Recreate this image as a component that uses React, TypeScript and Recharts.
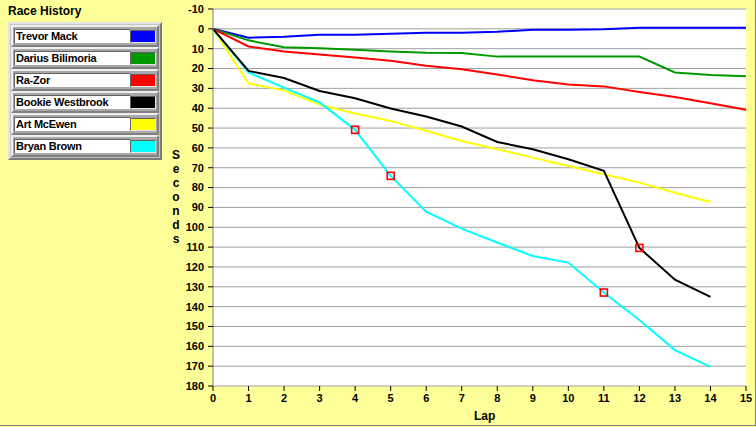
import React from 'react'
import { LineChart, Line, XAxis, YAxis, CartesianGrid } from 'recharts'

// lap numbers along the x axis
const laps = [0, 1, 2, 3, 4, 5, 6, 7, 8, 9, 10, 11, 12, 13, 14, 15]

// cumulative seconds behind (null = no lap run)
const trevorMack = [0, 4.5, 4.0, 3.0, 3.0, 2.5, 2.0, 2.0, 1.5, 0.5, 0.5, 0.2, -0.5, -0.5, -0.5, -0.5]
const dariusBilimoria = [0, 5.8, 9.3, 9.8, 10.5, 11.4, 12.0, 12.2, 14.0, 14.0, 14.0, 14.0, 14.0, 22.0, 23.3, 23.9]
const raZor = [0, 8.9, 11.4, 12.9, 14.4, 16.1, 18.6, 20.4, 23.0, 25.9, 28.0, 29.0, 31.8, 34.3, 37.5, 40.8]
const bookieWestbrook = [0, 21.2, 24.8, 31.3, 35.0, 40.1, 44.2, 49.2, 57.0, 60.7, 65.7, 71.6, 110.4, 126.4, 135.1, null]
const artMcEwen = [0, 27.5, 31.0, 38.2, 42.7, 46.4, 51.4, 56.5, 60.7, 64.9, 69.1, 73.3, 77.5, 82.6, 87.3, null]
const bryanBrown = [0, 22.0, 29.6, 37.1, 50.9, 74.1, 92.1, 100.7, 107.7, 114.5, 117.8, 132.9, 146.7, 161.9, 170.4, null]

// laps that carry a red square marker
const bookieMarks = [12]
const bryanMarks = [4, 5, 11]

const yTicks = [-10, 0, 10, 20, 30, 40, 50, 60, 70, 80, 90, 100, 110, 120, 130, 140, 150, 160, 170, 180]

const drivers = [
  { key: 'trevor', name: 'Trevor Mack', color: '#0000FF', values: trevorMack, marks: [] as number[] },
  { key: 'darius', name: 'Darius Bilimoria', color: '#009900', values: dariusBilimoria, marks: [] as number[] },
  { key: 'razor', name: 'Ra-Zor', color: '#FF0000', values: raZor, marks: [] as number[] },
  { key: 'art', name: 'Art McEwen', color: '#FFFF00', values: artMcEwen, marks: [] as number[] },
  { key: 'bryan', name: 'Bryan Brown', color: '#00FFFF', values: bryanBrown, marks: bryanMarks },
  { key: 'bookie', name: 'Bookie Westbrook', color: '#000000', values: bookieWestbrook, marks: bookieMarks },
]

const legendOrder = ['trevor', 'darius', 'razor', 'bookie', 'art', 'bryan']

const data = laps.map((lap, i) => {
  const row: Record<string, number | null> = { lap }
  drivers.forEach(d => { row[d.key] = d.values[i] ?? null })
  return row
})

const FONT = '"Liberation Sans", Arial, sans-serif'
const BG = '#FFFF99'

const markDot = (marks: number[]) => (props: any) => {
  const { cx, cy, payload, index } = props
  if (!marks.includes(payload.lap) || cx == null || cy == null) return <g key={`n-${index}`} />
  return (
    <rect key={`m-${index}`} x={cx - 3.5} y={cy - 3.5} width={7} height={7}
      fill="none" stroke="#FF0000" strokeWidth={1.6} />
  )
}

const tickStyle = { fill: '#000', fontFamily: FONT, fontSize: 11, fontWeight: 700 }

function Legend() {
  return (
    <>
      <div style={{ position: 'absolute', left: 8, top: 4, fontFamily: FONT, fontSize: 12, fontWeight: 700 }}>
        Race History
      </div>
      <div style={{
        position: 'absolute', left: 8, top: 22, width: 154, height: 138, boxSizing: 'border-box',
        background: '#c4c4c4', borderTop: '2px solid #e4e4e4', borderLeft: '2px solid #e4e4e4',
        borderBottom: '2px solid #7a7a7a', borderRight: '2px solid #7a7a7a',
      }} />
      {legendOrder.map((k, i) => {
        const d = drivers.find(x => x.key === k)!
        const top = 24 + 22 * i
        return (
          <React.Fragment key={k}>
            <div style={{
              position: 'absolute', left: 11, top: top + 1, width: 148, height: 22, boxSizing: 'border-box',
              background: '#a8a8a8', borderTop: '2px solid #eeeeee', borderLeft: '2px solid #eeeeee',
              borderBottom: '2px solid #808080', borderRight: '2px solid #808080',
            }} />
            <div style={{
              position: 'absolute', left: 14, top: top + 5, width: 116, height: 14, boxSizing: 'border-box',
              background: '#fff', borderTop: '1px solid #606060', borderLeft: '1px solid #606060',
              fontFamily: FONT, fontSize: 11, fontWeight: 700, lineHeight: '13px', paddingLeft: 1,
              letterSpacing: -0.25, whiteSpace: 'nowrap', overflow: 'hidden',
            }}>{d.name}</div>
            <div style={{
              position: 'absolute', left: 130, top: top + 6, width: 26, height: 13, boxSizing: 'border-box',
              background: d.color, borderTop: '1px solid #606060', borderLeft: '1px solid #606060',
              borderBottom: '1px solid #e8e8e8', borderRight: '1px solid #e8e8e8',
            }} />
          </React.Fragment>
        )
      })}
    </>
  )
}

export default function App() {
  return (
    <div style={{ position: 'fixed', left: 0, top: 0, width: 756, height: 427, background: BG, overflow: 'hidden' }}>
      <LineChart width={756} height={427} data={data} margin={{ top: 9, right: 10, bottom: 0, left: 0 }}>
        <CartesianGrid horizontal vertical={false} stroke="#a0a0a0" fill="#ffffff" />
        <XAxis
          dataKey="lap" type="number" domain={[0, 15]} ticks={laps} interval={0}
          height={41} tickSize={5} tickMargin={3} stroke="#808080"
          tickLine={{ stroke: '#000' }} axisLine={false} tick={tickStyle}
        />
        <YAxis
          type="number" reversed domain={[-10, 180]} ticks={yTicks} interval={0}
          width={213} tickSize={5} tickMargin={4} stroke="#808080"
          tickLine={{ stroke: '#000' }} tick={tickStyle}
        />
        {drivers.map(d => (
          <Line
            key={d.key} dataKey={d.key} type="linear" stroke={d.color} strokeWidth={2}
            dot={d.marks.length ? markDot(d.marks) : false} activeDot={false}
            isAnimationActive={false} connectNulls={false}
          />
        ))}
      </LineChart>
      <Legend />
      <div style={{
        position: 'absolute', left: 168, top: 148, width: 16, textAlign: 'center',
        fontFamily: FONT, fontSize: 12, fontWeight: 700, lineHeight: '14px',
      }}>
        {'Seconds'.split('').map((c, i) => <div key={i}>{c}</div>)}
      </div>
      <div style={{ position: 'absolute', left: 474, top: 409, fontFamily: FONT, fontSize: 12, fontWeight: 700 }}>
        Lap
      </div>
      <div style={{ position: 'absolute', left: 755, top: 0, width: 1, height: 426, background: '#808080' }} />
      <div style={{ position: 'absolute', left: 0, top: 425, width: 756, height: 1, background: '#808080' }} />
    </div>
  )
}
